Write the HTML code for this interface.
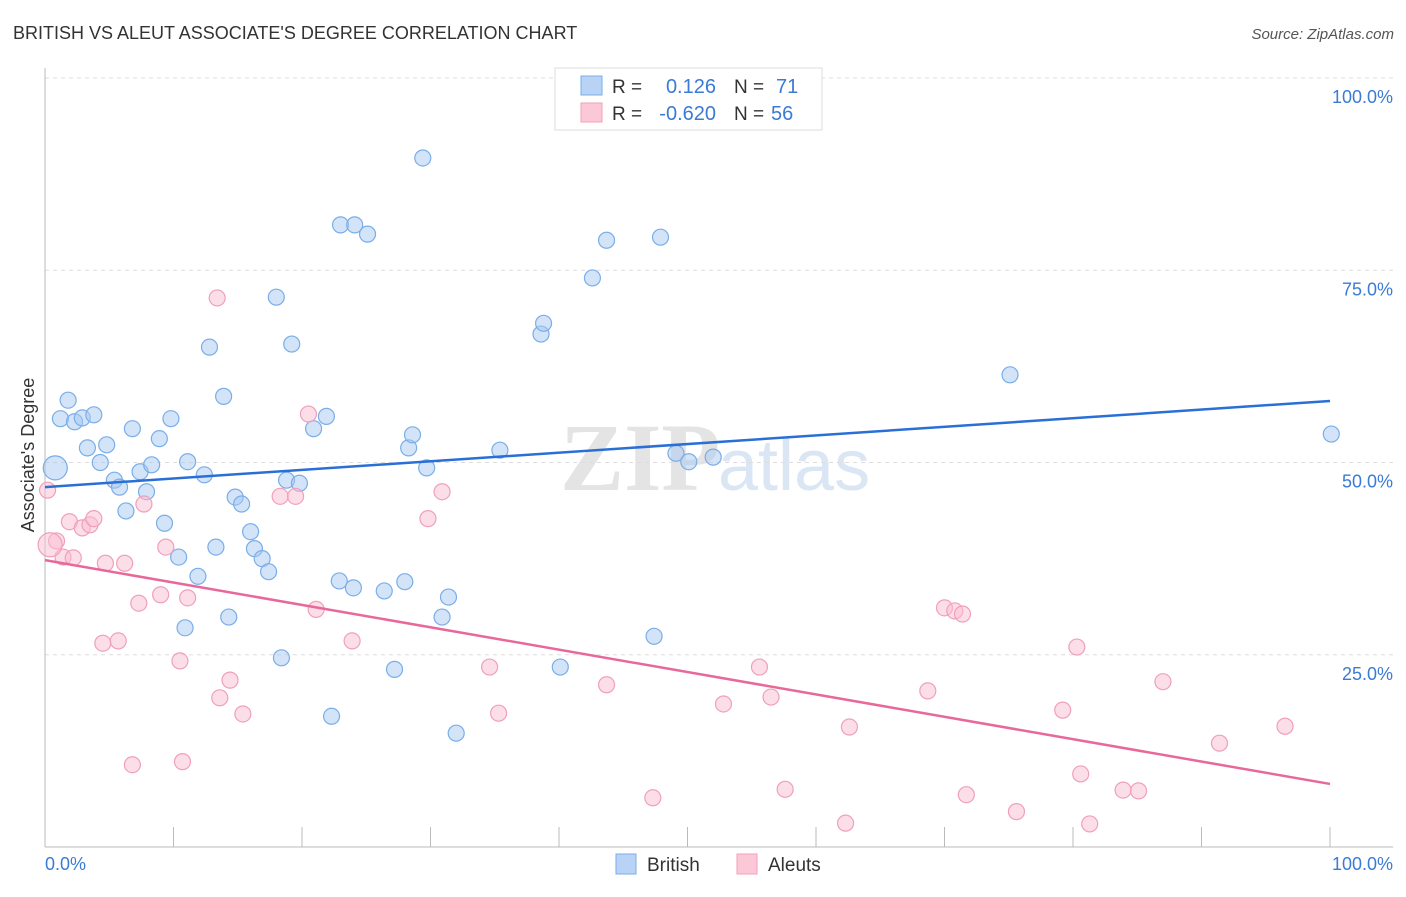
<!DOCTYPE html>
<html><head><meta charset="utf-8"><style>
body{margin:0;background:#fff;font-family:"Liberation Sans",sans-serif;}
</style></head><body>
<svg id="c" width="1406" height="892" xmlns="http://www.w3.org/2000/svg">
<text x="13" y="39" font-size="18" fill="#333">BRITISH VS ALEUT ASSOCIATE'S DEGREE CORRELATION CHART</text>
<text x="1394" y="39" font-size="15" fill="#555" font-style="italic" text-anchor="end">Source: ZipAtlas.com</text>
<text x="720" y="490" font-size="96" fill="#e4e4e4" text-anchor="end" font-family="Liberation Serif" font-weight="bold">ZIP</text>
<text x="718" y="490" font-size="72" fill="#dbe6f4">atlas</text>
<g id="grid"></g><g id="pts"></g><g id="trend"></g>
<text transform="translate(34,455) rotate(-90)" font-size="18" fill="#333" text-anchor="middle">Associate's Degree</text>
<g>
<rect x="555" y="68" width="267" height="62" fill="#fff" stroke="#ddd"/>
<rect x="581" y="76" width="21" height="19" fill="#b8d3f5" stroke="#7aaee8"/>
<rect x="581" y="103" width="21" height="19" fill="#fcc8d8" stroke="#f0a0b8"/>
<text x="612" y="93" font-size="19" fill="#333">R = </text><text x="716" y="93" font-size="20" fill="#3a7bd5" text-anchor="end">0.126</text>
<text x="734" y="93" font-size="19" fill="#333">N = </text><text x="776" y="93" font-size="20" fill="#3a7bd5">71</text>
<text x="612" y="120" font-size="19" fill="#333">R = </text><text x="716" y="120" font-size="20" fill="#3a7bd5" text-anchor="end">-0.620</text>
<text x="734" y="120" font-size="19" fill="#333">N = </text><text x="771" y="120" font-size="20" fill="#3a7bd5">56</text>
</g>
<g>
<rect x="616" y="854" width="20" height="20" fill="#b8d3f5" stroke="#7aaee8"/>
<text x="647" y="871" font-size="19" fill="#333">British</text>
<rect x="737" y="854" width="20" height="20" fill="#fcc8d8" stroke="#f0a0b8"/>
<text x="768" y="871" font-size="19" fill="#333">Aleuts</text>
</g>
</svg>
<script>
const britishX=[0.8,1.8,1.2,2.3,2.9,3.8,3.3,4.3,4.8,5.4,5.8,6.3,6.8,7.4,7.9,8.3,8.9,9.3,9.8,10.4,10.9,11.1,11.9,12.4,12.8,13.3,13.9,14.3,14.8,15.3,16.0,16.3,16.9,17.4,18.0,18.4,18.8,19.2,19.8,20.9,21.9,22.3,22.9,23.0,24.1,24.0,25.1,26.4,27.2,28.0,28.3,28.6,29.4,29.7,30.9,31.4,32.0,35.4,38.6,38.8,40.1,42.6,43.7,47.4,47.9,49.1,50.1,52.0,75.1,100.1];
const britishY=[49.3,58.1,55.7,55.3,55.8,56.2,51.9,50.0,52.3,47.7,46.8,43.7,54.4,48.8,46.2,49.7,53.1,42.1,55.7,37.7,28.5,50.1,35.2,48.4,65.0,39.0,58.6,29.9,45.5,44.6,41.0,38.8,37.5,35.8,71.5,24.6,47.7,65.4,47.3,54.4,56.0,17.0,34.6,80.9,80.9,33.7,79.7,33.3,23.1,34.5,51.9,53.6,89.6,49.3,29.9,32.5,14.8,51.6,66.7,68.1,23.4,74.0,78.9,27.4,79.3,51.2,50.1,50.7,61.4,53.7];
const aleutX=[0.2,0.9,1.4,1.9,2.2,2.9,3.5,3.8,4.5,4.7,5.7,6.2,6.8,7.3,7.7,9.0,9.4,10.5,10.7,11.1,13.4,13.6,14.4,15.4,18.3,19.5,20.5,21.1,23.9,29.8,30.9,34.6,35.3,43.7,47.3,52.8,55.6,56.5,57.6,62.3,62.6,68.7,70.0,70.8,71.4,71.7,75.6,79.2,80.3,80.6,81.3,83.9,85.1,87.0,91.4,96.5,0.4];
const aleutY=[46.4,39.8,37.7,42.3,37.6,41.5,41.9,42.7,26.5,36.9,26.8,36.9,10.7,31.7,44.6,32.8,39.0,24.2,11.1,32.4,71.4,19.4,21.7,17.3,45.6,45.6,56.3,30.9,26.8,42.7,46.2,23.4,17.4,21.1,6.4,18.6,23.4,19.5,7.5,3.1,15.6,20.3,31.1,30.7,30.3,6.8,4.6,17.8,26.0,9.5,3.0,7.4,7.3,21.5,13.5,15.7,39.3];
const britishTrend=[46.8,58.0];
const aleutTrend=[37.3,8.2];
const yTicks=[25,50,75,100];
const yTickLabels=["25.0%","50.0%","75.0%","100.0%"];
const xTicks=[0,10,20,30,40,50,60,70,80,90,100];

const NS="http://www.w3.org/2000/svg";
const X=v=>45+v*12.85, Y=v=>847-v*7.69;
function mk(t,a,p){const e=document.createElementNS(NS,t);for(const k in a)e.setAttribute(k,a[k]);p.appendChild(e);return e;}
const g=document.getElementById('grid');
yTicks.forEach((t,i)=>{
 const l=mk('line',{x1:45,x2:1393,y1:Y(t),y2:Y(t),stroke:'#ddd','stroke-dasharray':'4,4'},g);
 
 
 const tx=mk('text',{x:1393,y:Y(t)+25,'font-size':18,fill:'#3a7bd5','text-anchor':'end'},g);
 tx.textContent=yTickLabels[i];
 
 
});
const ax=mk('line',{x1:45,x2:45,y1:68,y2:847,stroke:'#bbb'},g);


const bx=mk('line',{x1:45,x2:1393,y1:847,y2:847,stroke:'#bbb'},g);


xTicks.forEach(t=>{
 const l=mk('line',{x1:X(t),x2:X(t),y1:827,y2:847,stroke:'#bbb'},g);
 
 
});
const x0=mk('text',{x:45,y:870,'font-size':18,fill:'#3a7bd5'},g);x0.textContent='0.0%';


const x1=mk('text',{x:1393,y:870,'font-size':18,fill:'#3a7bd5','text-anchor':'end'},g);x1.textContent='100.0%';


const p=document.getElementById('pts');
britishX.forEach((v,i)=>{
 const c=mk('circle',{cx:X(v),cy:Y(britishY[i]),r:i==0?12:8,fill:'rgba(168,200,242,0.5)',stroke:'#7aaee8','stroke-width':1.2},p);
 
 
});
aleutX.forEach((v,i)=>{
 const c=mk('circle',{cx:X(v),cy:Y(aleutY[i]),r:i==aleutX.length-1?12:8,fill:'rgba(250,190,210,0.5)',stroke:'#f0a0b8','stroke-width':1.2},p);
 
 
});
const tr=document.getElementById('trend');
const t1=mk('line',{x1:X(0),y1:Y(britishTrend[0]),x2:X(100),y2:Y(britishTrend[1]),stroke:'#2a6fd6','stroke-width':2.5},tr);


const t2=mk('line',{x1:X(0),y1:Y(aleutTrend[0]),x2:X(100),y2:Y(aleutTrend[1]),stroke:'#e8689a','stroke-width':2.5},tr);


</script>
</body></html>
